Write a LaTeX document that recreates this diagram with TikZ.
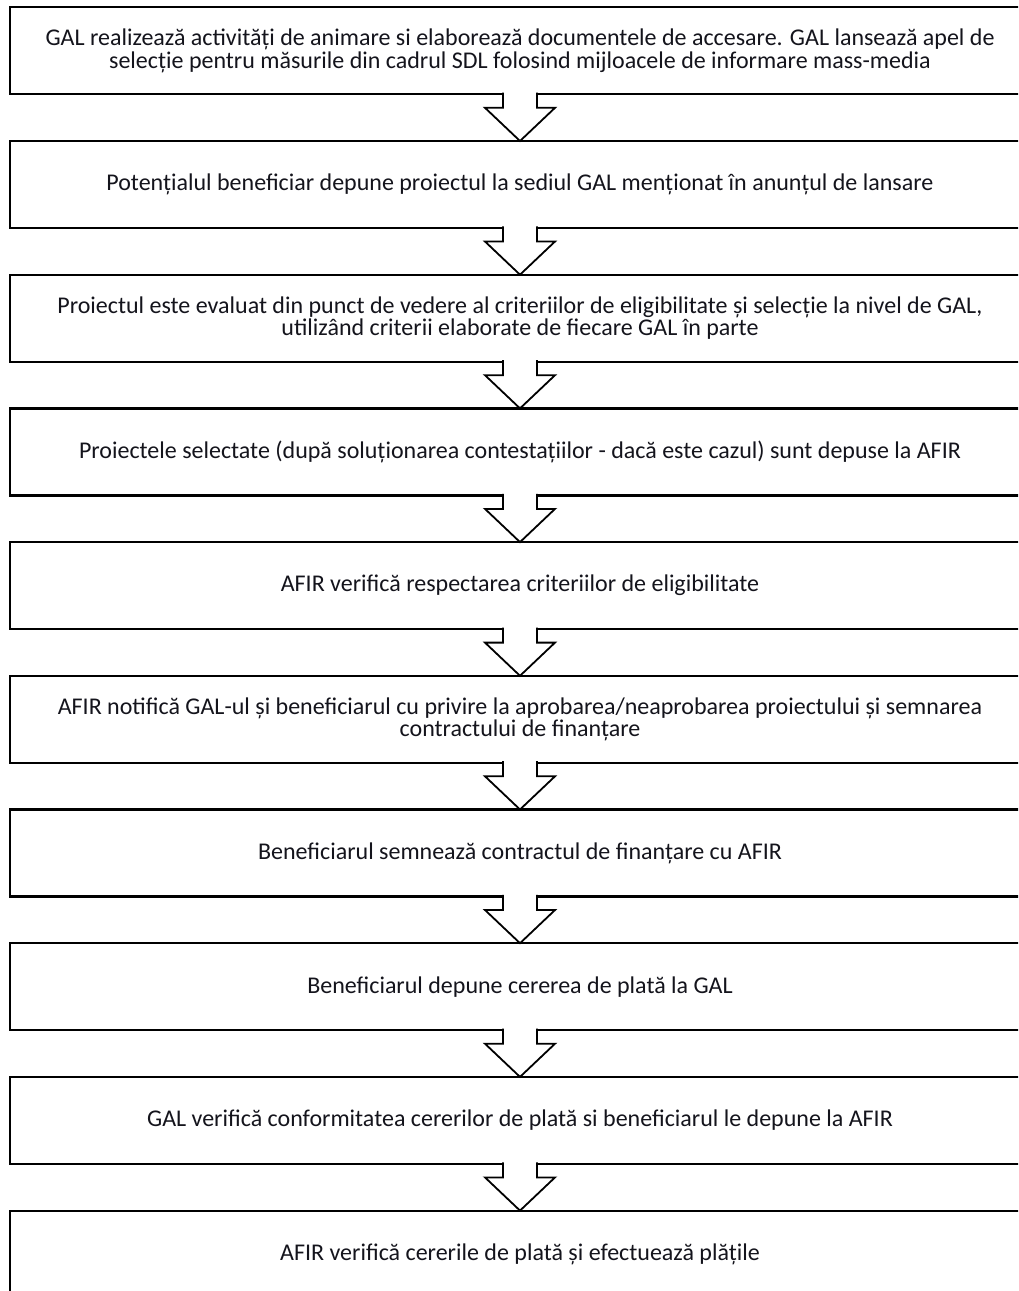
\documentclass[tikz,border=0pt]{standalone}
\usepackage{fontspec}
\setmainfont{Carlito}
\usepackage{xcolor}
\usepackage{tikz}
\usetikzlibrary{calc,positioning}
\definecolor{ink}{HTML}{14141C}
\definecolor{edge}{HTML}{000000}
\tikzset{
  stepbox/.style={draw=edge, line width=2.2pt, fill=white, outer sep=0pt, inner sep=0pt,
    minimum width=1019.4pt, minimum height=87pt, align=center, text=ink,
    font=\fontsize{24}{22.5}\selectfont},
  blockarrow/.style={draw=edge, fill=white, line width=1.8pt, line join=miter},
}
\begin{document}
\begin{tikzpicture}[x=1pt,y=1pt,node distance=46.7pt]
  \clip (0,0) rectangle (1018,-1291);
  \def\sh{17}
  \def\hw{35}
  \def\nk{13.5}
  \node[stepbox] (b1) at (520,-50.8) {GAL realizează activități de animare si elaborează documentele de accesare. GAL lansează apel de\\selecție pentru măsurile din cadrul SDL folosind mijloacele de informare mass-media};
  \node[stepbox,below=of b1] (b2) {Potențialul beneficiar depune proiectul la sediul GAL menționat în anunțul de lansare};
  \node[stepbox,below=of b2] (b3) {Proiectul este evaluat din punct de vedere al criteriilor de eligibilitate și selecție la nivel de GAL,\\utilizând criterii elaborate de fiecare GAL în parte};
  \node[stepbox,below=of b3] (b4) {Proiectele selectate (după soluționarea contestațiilor - dacă este cazul) sunt depuse la AFIR};
  \node[stepbox,below=of b4] (b5) {AFIR verifică respectarea criteriilor de eligibilitate};
  \node[stepbox,below=of b5] (b6) {AFIR notifică GAL-ul și beneficiarul cu privire la aprobarea/neaprobarea proiectului și semnarea\\contractului de finanțare};
  \node[stepbox,below=of b6] (b7) {Beneficiarul semnează contractul de finanțare cu AFIR};
  \node[stepbox,below=of b7] (b8) {Beneficiarul depune cererea de plată la GAL};
  \node[stepbox,below=of b8] (b9) {GAL verifică conformitatea cererilor de plată si beneficiarul le depune la AFIR};
  \node[stepbox,below=of b9] (b10) {AFIR verifică cererile de plată și efectuează plățile};
  % block arrows between the steps
  \draw[blockarrow] ($(b1.south)+(-\sh,1.6)$) |- ($(b1.south)+(-\hw,-\nk)$) -- (b2.north) -- ($(b1.south)+(\hw,-\nk)$) -| ($(b1.south)+(\sh,1.6)$);
  \draw[blockarrow] ($(b2.south)+(-\sh,1.6)$) |- ($(b2.south)+(-\hw,-\nk)$) -- (b3.north) -- ($(b2.south)+(\hw,-\nk)$) -| ($(b2.south)+(\sh,1.6)$);
  \draw[blockarrow] ($(b3.south)+(-\sh,1.6)$) |- ($(b3.south)+(-\hw,-\nk)$) -- (b4.north) -- ($(b3.south)+(\hw,-\nk)$) -| ($(b3.south)+(\sh,1.6)$);
  \draw[blockarrow] ($(b4.south)+(-\sh,1.6)$) |- ($(b4.south)+(-\hw,-\nk)$) -- (b5.north) -- ($(b4.south)+(\hw,-\nk)$) -| ($(b4.south)+(\sh,1.6)$);
  \draw[blockarrow] ($(b5.south)+(-\sh,1.6)$) |- ($(b5.south)+(-\hw,-\nk)$) -- (b6.north) -- ($(b5.south)+(\hw,-\nk)$) -| ($(b5.south)+(\sh,1.6)$);
  \draw[blockarrow] ($(b6.south)+(-\sh,1.6)$) |- ($(b6.south)+(-\hw,-\nk)$) -- (b7.north) -- ($(b6.south)+(\hw,-\nk)$) -| ($(b6.south)+(\sh,1.6)$);
  \draw[blockarrow] ($(b7.south)+(-\sh,1.6)$) |- ($(b7.south)+(-\hw,-\nk)$) -- (b8.north) -- ($(b7.south)+(\hw,-\nk)$) -| ($(b7.south)+(\sh,1.6)$);
  \draw[blockarrow] ($(b8.south)+(-\sh,1.6)$) |- ($(b8.south)+(-\hw,-\nk)$) -- (b9.north) -- ($(b8.south)+(\hw,-\nk)$) -| ($(b8.south)+(\sh,1.6)$);
  \draw[blockarrow] ($(b9.south)+(-\sh,1.6)$) |- ($(b9.south)+(-\hw,-\nk)$) -- (b10.north) -- ($(b9.south)+(\hw,-\nk)$) -| ($(b9.south)+(\sh,1.6)$);
\end{tikzpicture}
\end{document}
